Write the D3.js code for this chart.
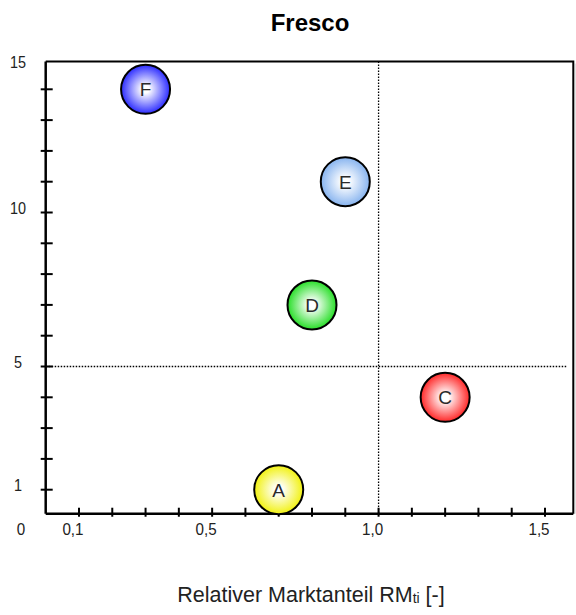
<!DOCTYPE html>
<html>
<head>
<meta charset="utf-8">
<script src="https://cdn.jsdelivr.net/npm/d3@7"></script>
<style>
  body { margin: 0; background: #fff; }
  svg { display: block; }
  .narrow { font-family: "Liberation Sans", Arial, sans-serif; }
</style>
</head>
<body>
<script>
// portfolio points
var names = ["A", "C", "D", "E", "F"];
var marketShare = [0.7, 1.2, 0.8, 0.9, 0.3];   // Relativer Marktanteil
var growth = [1, 4, 7, 11, 14];
var colors = ["#f2f21e", "#ff3434", "#34e034", "#8eb8f0", "#3838ff"];

// axis stuff
var xTicks = [0.1,0.2,0.3,0.4,0.5,0.6,0.7,0.8,0.9,1.0,1.1,1.2,1.3,1.4,1.5];
var xTickLabels = [0.1, 0.5, 1.0, 1.5];
var yTicks = [1,2,3,4,5,6,7,8,9,10,11,12,13,14];
var yTickLabels = [10, 5, 1];

var width = 576, height = 615;

var x = d3.scaleLinear().domain([0, 1.585]).range([45.7, 573.3]);
var y = d3.scaleLinear().domain([0, 15]).range([520.5, 58.5]);
var yBottom = 0.22, yTop = 14.9;

var svg = d3.select("body").append("svg")
    .attr("width", width)
    .attr("height", height);

// text helper, sx squeezes horizontally
function label(px, py, size, sx) {
  return svg.append("g")
    .attr("transform", "translate(" + px + "," + py + ") scale(" + sx + ",1)")
    .append("text")
      .attr("class", "narrow")
      .attr("text-anchor", "middle")
      .style("font-size", size + "px")
      .style("fill", "#222");
}

// gradients for the bubbles
var defs = svg.append("defs");
names.forEach(function(n, i) {
  var g = defs.append("radialGradient").attr("id", "grad" + n)
    .attr("cx", "50%").attr("cy", "50%").attr("r", "50%");
  g.append("stop").attr("offset", "0%").attr("stop-color", "#ffffff");
  g.append("stop").attr("offset", "15%").attr("stop-color", "#ffffff");
  g.append("stop").attr("offset", "95%").attr("stop-color", colors[i]);
});

// title
svg.append("text")
  .attr("x", 310).attr("y", 31)
  .attr("text-anchor", "middle")
  .style("font-family", "Liberation Sans, Arial, sans-serif")
  .style("font-weight", "bold")
  .style("font-size", "24px")
  .text("Fresco");

// dotted lines
svg.append("line")
  .attr("x1", x(0)).attr("x2", 567)
  .attr("y1", y(5)).attr("y2", y(5))
  .attr("stroke", "#000").attr("stroke-width", 1.3)
  .attr("stroke-dasharray", "1.5,1.5");
svg.append("line")
  .attr("x1", x(1.0)).attr("x2", x(1.0))
  .attr("y1", y(yTop)).attr("y2", y(yBottom))
  .attr("stroke", "#000").attr("stroke-width", 1.3)
  .attr("stroke-dasharray", "1.5,1.5");

// frame: top + right
svg.append("path")
  .attr("d", "M" + x(0) + "," + y(yTop) + "H" + x.range()[1] + "V" + y(yBottom))
  .attr("fill", "none").attr("stroke", "#000").attr("stroke-width", 2);
svg.append("line")
  .attr("x1", x.range()[1] + 1.5).attr("x2", x.range()[1] + 1.5)
  .attr("y1", y(yTop) + 2).attr("y2", y(yBottom))
  .attr("stroke", "#aaa").attr("stroke-width", 1);

// axes lines
svg.append("line")
  .attr("x1", x(0)).attr("x2", x(0))
  .attr("y1", y(yTop)).attr("y2", y(yBottom))
  .attr("stroke", "#000").attr("stroke-width", 2.5);
svg.append("line")
  .attr("x1", x(0)).attr("x2", x.range()[1])
  .attr("y1", y(yBottom)).attr("y2", y(yBottom))
  .attr("stroke", "#000").attr("stroke-width", 2.5);

// y ticks (crossing the axis)
svg.selectAll(".ytick")
  .data(yTicks)
  .enter().append("line")
    .attr("class", "ytick")
    .attr("x1", x(0) - 5).attr("x2", x(0) + 7)
    .attr("y1", function(d) { return y(d); })
    .attr("y2", function(d) { return y(d); })
    .attr("stroke", "#000").attr("stroke-width", 2);

// x ticks
svg.selectAll(".xtick")
  .data(xTicks)
  .enter().append("line")
    .attr("class", "xtick")
    .attr("x1", function(d) { return x(d); })
    .attr("x2", function(d) { return x(d); })
    .attr("y1", y(yBottom) - 6).attr("y2", y(yBottom) + 3)
    .attr("stroke", "#000").attr("stroke-width", 2);

var fmt = function(d) { return d3.format(".1f")(d).replace(".", ","); };

xTickLabels.forEach(function(d) {
  label(x(d) - 6, 535, 16, 0.95).text(fmt(d));
});
yTickLabels.forEach(function(d) {
  label(18, y(d) - 4, 16, 0.9).attr("dy", "0.35em").text(d);
});

// 15 at the top, 0 in the corner
label(18, y(yTop) + 1, 16, 0.9).attr("dy", "0.35em").text("15");
label(21, 535, 16, 0.95).text("0");

// bubbles
var bubble = svg.selectAll(".bubble")
  .data(names)
  .enter().append("g")
    .attr("class", "bubble")
    .attr("transform", function(d, i) {
      return "translate(" + x(marketShare[i]) + "," + y(growth[i]) + ")"; });

bubble.append("circle")
  .attr("r", 24.5)
  .attr("fill", function(d) { return "url(#grad" + d + ")"; })
  .attr("stroke", "#000").attr("stroke-width", 2);

bubble.append("text")
  .attr("dy", "0.36em")
  .attr("text-anchor", "middle")
  .style("font-family", "Liberation Sans, Arial, sans-serif")
  .style("font-size", "19px")
  .style("fill", "#2a2a2a")
  .text(function(d) { return d; });

// x axis title
var xt = label(311, 602, 21.5, 1.0);
xt.append("tspan").text("Relativer Marktanteil RM");
xt.append("tspan").style("font-size", "14px").attr("dy", 1).text("ti");
xt.append("tspan").attr("dy", -1).text(" [-]");
</script>
</body>
</html>
